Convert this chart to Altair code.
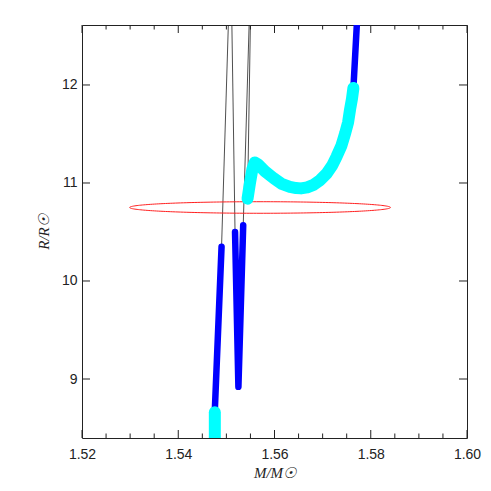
import altair as alt
import pandas as pd
import numpy as np

# ---- axes ----
X_DOMAIN = [1.52, 1.60]
Y_DOMAIN = [8.398, 12.612]
X_LABELS = [1.52, 1.54, 1.56, 1.58, 1.60]
X_MINOR = [1.525, 1.53, 1.535, 1.545, 1.55, 1.555, 1.565, 1.57, 1.575,
           1.585, 1.59, 1.595]
Y_MAJOR = [9, 10, 11, 12]

# ---- evolutionary track pieces (M/Msun, R/Rsun) ----
cyan_low_m = [1.5476, 1.5476]
cyan_low_r = [8.30, 8.66]
blue1_m = [1.5476, 1.5490]
blue1_r = [8.68, 10.35]
thin1_m = [1.5490, 1.5509, 1.5518]
thin1_r = [10.35, 13.40, 10.50]
blue2_m = [1.5518, 1.5525, 1.5535]
blue2_r = [10.50, 8.92, 10.57]
thin2_m = [1.5535, 1.5553, 1.5544]
thin2_r = [10.57, 13.57, 10.83]
cyan_loop_m = [1.5544, 1.5549, 1.5554, 1.5559, 1.5566, 1.5580, 1.5598,
               1.5615, 1.5632, 1.5645, 1.5655, 1.5668, 1.5681, 1.5695,
               1.5709, 1.5720, 1.5729, 1.5739, 1.5747, 1.5753, 1.5757,
               1.5761, 1.5764]
cyan_loop_r = [10.84, 11.00, 11.14, 11.21, 11.19, 11.12, 11.05,
               10.99, 10.96, 10.948, 10.945, 10.955, 10.98, 11.03,
               11.10, 11.18, 11.27, 11.38, 11.51, 11.62, 11.75,
               11.86, 11.97]
blue3_m = [1.5764, 1.5772]
blue3_r = [11.97, 12.70]

# ---- observational error ellipse ----
ELL_M, ELL_R = 1.557, 10.75
ELL_DM, ELL_DR = 0.0271, 0.059

W, H = 385, 413


def seg(name, ms, rs):
    return pd.DataFrame({"m": ms, "r": rs, "seg": name, "i": range(len(ms))})


cyan_df = pd.concat([seg("c1", cyan_low_m, cyan_low_r),
                     seg("c2", cyan_loop_m, cyan_loop_r)])
blue_df = pd.concat([seg("b1", blue1_m, blue1_r),
                     seg("b2", blue2_m, blue2_r),
                     seg("b3", blue3_m, blue3_r)])
thin_df = pd.concat([seg("t1", thin1_m, thin1_r),
                     seg("t2", thin2_m, thin2_r)])

t = np.linspace(0, 2 * np.pi, 241)
ell_df = pd.DataFrame({"m": ELL_M + ELL_DM * np.cos(t),
                       "r": ELL_R + ELL_DR * np.sin(t),
                       "i": range(len(t))})

xs = alt.Scale(domain=X_DOMAIN, nice=False, zero=False)
ys = alt.Scale(domain=Y_DOMAIN, nice=False, zero=False)

x_axis = alt.Axis(values=X_LABELS, format=".2f", ticks=False, domain=False,
                  grid=False, labelPadding=9, labelFlush=False,
                  title="M/M\u2609", titlePadding=4)
y_axis = alt.Axis(values=Y_MAJOR, format="d", ticks=False, domain=False,
                  grid=False, labelPadding=5, labelFlush=False,
                  title="R/R\u2609", titlePadding=10)

thin = alt.Chart(thin_df).mark_line(color="#222222", strokeWidth=0.8,
                                    clip=True).encode(
    x=alt.X("m:Q", scale=xs, axis=x_axis),
    y=alt.Y("r:Q", scale=ys, axis=y_axis),
    detail="seg:N", order="i:Q")

ellipse = alt.Chart(ell_df).mark_line(color="#ff2020", strokeWidth=1,
                                      clip=True).encode(
    x=alt.X("m:Q", scale=xs), y=alt.Y("r:Q", scale=ys), order="i:Q")

blue = alt.Chart(blue_df).mark_line(color="#0000ff", strokeWidth=6.5,
                                    strokeCap="round", strokeJoin="round",
                                    clip=True).encode(
    x=alt.X("m:Q", scale=xs), y=alt.Y("r:Q", scale=ys),
    detail="seg:N", order="i:Q")

cyan = alt.Chart(cyan_df).mark_line(color="#00ffff", strokeWidth=12,
                                    strokeCap="round", strokeJoin="round",
                                    clip=True).encode(
    x=alt.X("m:Q", scale=xs), y=alt.Y("r:Q", scale=ys),
    detail="seg:N", order="i:Q")

# ---- inward tick marks ----
xmaj = pd.DataFrame({"m": X_LABELS})
xmin = pd.DataFrame({"m": X_MINOR})
ymaj = pd.DataFrame({"r": Y_MAJOR})
tk = dict(color="#222222", strokeWidth=1)

ticks = [
    alt.Chart(xmaj).mark_rule(**tk).encode(
        x=alt.X("m:Q", scale=xs), y=alt.value(H), y2=alt.value(H - 8)),
    alt.Chart(xmaj).mark_rule(**tk).encode(
        x=alt.X("m:Q", scale=xs), y=alt.value(0), y2=alt.value(8)),
    alt.Chart(xmin).mark_rule(**tk).encode(
        x=alt.X("m:Q", scale=xs), y=alt.value(H), y2=alt.value(H - 4.5)),
    alt.Chart(xmin).mark_rule(**tk).encode(
        x=alt.X("m:Q", scale=xs), y=alt.value(0), y2=alt.value(4.5)),
    alt.Chart(ymaj).mark_rule(**tk).encode(
        y=alt.Y("r:Q", scale=ys), x=alt.value(0), x2=alt.value(8)),
    alt.Chart(ymaj).mark_rule(**tk).encode(
        y=alt.Y("r:Q", scale=ys), x=alt.value(W), x2=alt.value(W - 8)),
]

chart = alt.layer(thin, ellipse, blue, cyan, *ticks).properties(
    width=W, height=H,
    autosize=alt.AutoSizeParams(type="none"),
    padding={"left": 74, "top": 17, "right": 15, "bottom": 44},
).configure_view(
    stroke="#222222", strokeWidth=1
).configure_axis(
    labelFont="Liberation Sans", labelFontSize=14, labelColor="#222222",
    titleFont="Liberation Serif", titleFontSize=15, titleFontStyle="italic",
    titleFontWeight="normal", titleColor="#222222"
)

chart.save("out.html", embed_options={"renderer": "svg", "actions": False})
